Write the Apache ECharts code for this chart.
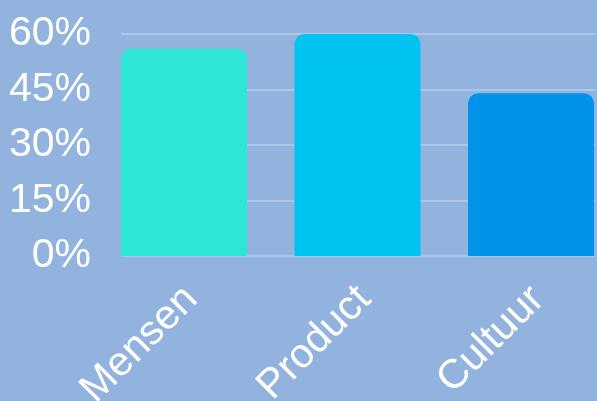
<!DOCTYPE html>
<html>
<head>
<meta charset="utf-8">
<script src="https://cdn.jsdelivr.net/npm/echarts@6/dist/echarts.min.js"></script>
<style>
html,body{margin:0;padding:0;background:#93b3df;}
#c{width:597px;height:401px;}
</style>
</head>
<body>
<div id="c"></div>
<script>
const categories = ['Mensen', 'Product', 'Cultuur'];
const values = [56, 60, 44];
const barColors = ['#2ee6d6', '#00c3ef', '#0093e9'];
const yMin = 0, yMax = 60, yStep = 15;

const chart = echarts.init(document.getElementById('c'));
chart.setOption({
  backgroundColor: '#93b3df',
  animation: false,
  grid: [
    {left: 97.25, width: 520.5, top: 34, height: 222, containLabel: false, outerBoundsMode: 'none'},
    {left: 121, right: 2, top: 34, height: 222, containLabel: false, outerBoundsMode: 'none'},
    {left: 104.25, width: 520.5, top: 34, height: 222, containLabel: false, outerBoundsMode: 'none'}
  ],
  xAxis: [
    {
      type: 'category', gridIndex: 0, data: categories,
      axisLine: {show: false}, axisTick: {show: false}, axisLabel: {show: false}
    },
    {type: 'value', gridIndex: 1, show: false, min: 0, max: 1},
    {
      type: 'category', gridIndex: 2, data: categories,
      axisLine: {show: false}, axisTick: {show: false}, splitLine: {show: false},
      axisLabel: {rotate: 45, color: '#ffffff', fontSize: 41, fontFamily: 'Liberation Sans', margin: 37, interval: 0}
    }
  ],
  yAxis: [
    {type: 'value', gridIndex: 0, min: yMin, max: yMax, interval: yStep, show: false},
    {
      type: 'value', gridIndex: 1, min: yMin, max: yMax, interval: yStep,
      axisLine: {show: false}, axisTick: {show: false},
      axisLabel: {formatter: '{value}%', color: '#ffffff', fontSize: 41, fontFamily: 'Liberation Sans', margin: 30},
      splitLine: {lineStyle: {color: '#aec6e9', width: 2}}
    },
    {type: 'value', gridIndex: 2, min: yMin, max: yMax, interval: yStep, show: false}
  ],
  series: [{
    type: 'bar', xAxisIndex: 0, yAxisIndex: 0,
    barWidth: 126,
    data: values.map((v, i) => ({value: v, itemStyle: {color: barColors[i]}})),
    itemStyle: {borderRadius: [10, 10, 0, 0]}
  }]
});
</script>
</body>
</html>
